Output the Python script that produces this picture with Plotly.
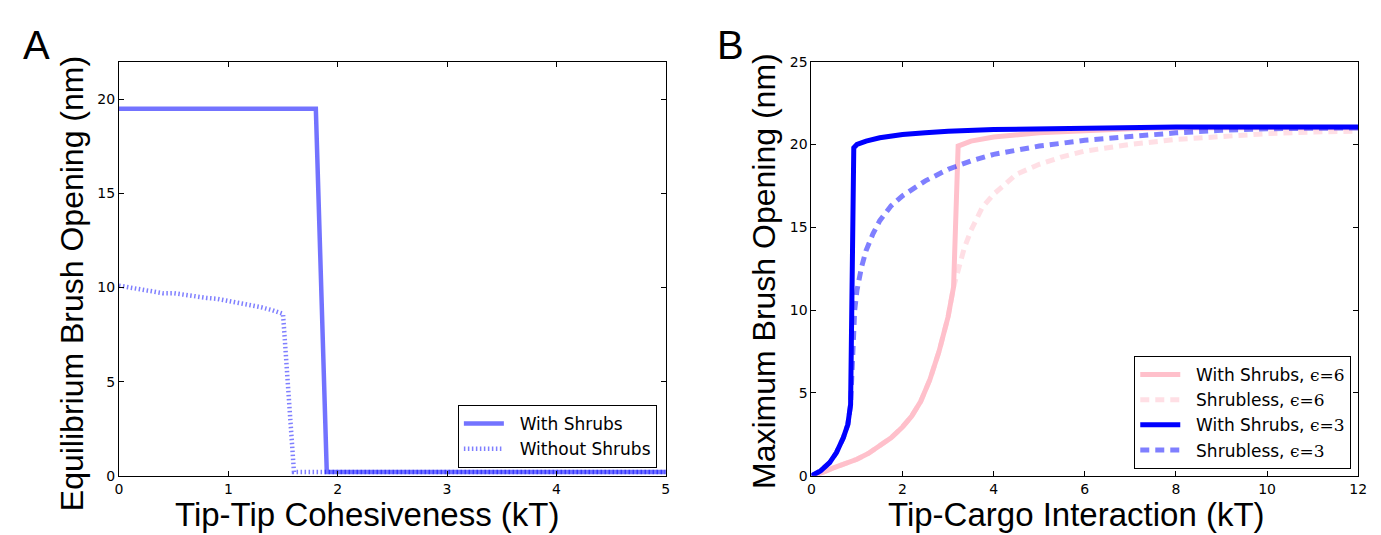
import plotly.graph_objects as go

# ---- panel A: equilibrium opening vs tip-tip cohesiveness ----
a_shrub_x = [0, 1.8, 1.9, 5]
a_shrub_y = [19.5, 19.5, 0.2, 0.2]

a_noshrub_x = [0, 0.1, 0.2, 0.3, 0.4, 0.5, 0.6, 0.7, 0.8, 0.9, 1.0, 1.1, 1.2,
               1.3, 1.4, 1.5, 1.6, 5]
a_noshrub_y = [10.1, 10.0, 9.85, 9.75, 9.7, 9.7, 9.6, 9.55, 9.45, 9.4, 9.3,
               9.2, 9.1, 8.95, 8.8, 8.6, 0.2, 0.2]

# ---- panel B: maximum opening vs tip-cargo interaction ----
b_s6_x = [0, 0.25, 0.5, 0.75, 1.0, 1.25, 1.5, 1.75, 2.0, 2.2, 2.4, 2.6, 2.8,
          3.0, 3.12, 3.22, 3.5, 4.0, 5.0, 6.0, 7.0, 8.0, 10.0, 12.0]
b_s6_y = [0, 0.2, 0.5, 0.75, 1.0, 1.35, 1.8, 2.3, 2.95, 3.6, 4.5, 5.8, 7.5,
          9.6, 11.4, 19.9, 20.2, 20.45, 20.7, 20.85, 20.95, 21.0, 21.0, 21.0]

b_n6_x = [0, 0.25, 0.5, 0.75, 1.0, 1.25, 1.5, 1.75, 2.0, 2.2, 2.4, 2.6, 2.8,
          3.0, 3.12, 3.2, 3.35, 3.5, 3.75, 4.0, 4.5, 5.0, 5.5, 6.0, 7.0, 8.0,
          9.0, 10.0, 11.0, 12.0]
b_n6_y = [0, 0.2, 0.5, 0.75, 1.0, 1.35, 1.8, 2.3, 2.95, 3.6, 4.5, 5.8, 7.5,
          9.6, 11.4, 12.2, 13.7, 14.8, 16.2, 17.0, 18.2, 18.8, 19.25, 19.6,
          20.0, 20.3, 20.5, 20.65, 20.75, 20.8]

b_s3_x = [0, 0.2, 0.4, 0.55, 0.7, 0.8, 0.86, 0.93, 1.0, 1.2, 1.5, 2.0, 2.5,
          3.0, 4.0, 5.0, 6.0, 8.0, 10.0, 12.0]
b_s3_y = [0, 0.3, 0.8, 1.4, 2.3, 3.1, 4.3, 19.8, 20.0, 20.2, 20.4, 20.6, 20.7,
          20.8, 20.9, 20.95, 21.0, 21.05, 21.05, 21.05]

b_n3_x = [0, 0.2, 0.4, 0.55, 0.7, 0.8, 0.86, 0.88, 0.91, 0.95, 1.0, 1.1, 1.2,
          1.35, 1.5, 1.75, 2.0, 2.5, 3.0, 3.5, 4.0, 5.0, 6.0, 7.0, 8.0, 9.0,
          10.0, 12.0]
b_n3_y = [0, 0.3, 0.8, 1.4, 2.3, 3.1, 4.3, 6.0, 8.5, 10.0, 11.2, 12.6, 13.6,
          14.6, 15.4, 16.3, 16.9, 17.8, 18.5, 19.0, 19.4, 19.9, 20.25, 20.5,
          20.7, 20.85, 20.95, 21.0]

PAD = "\u00a0\u00a0"
A_LABELS = [PAD + "With Shrubs", PAD + "Without Shrubs"]
EPS = "<span style='font-family:DejaVu Serif'>ϵ=%s</span>"
B_LABELS = [PAD + "With Shrubs, " + EPS % 6, PAD + "Shrubless, " + EPS % 6,
            PAD + "With Shrubs, " + EPS % 3, PAD + "Shrubless, " + EPS % 3]

W, H = 1381, 535
XTITLE_FONT = dict(family="Liberation Sans, Arial", size=33, color="black")
YTITLE_FONT = dict(family="Liberation Sans, Arial", size=32, color="black")
TICK_FONT = dict(family="DejaVu Sans", size=14, color="black")
LEG_FONT = dict(family="DejaVu Sans", size=17, color="black")
PANEL_FONT = dict(family="Liberation Sans, Arial", size=40, color="black")


def px(x):
    return x / W


def py(y):
    return 1 - y / H


fig = go.Figure()

fig.add_trace(go.Scatter(x=a_shrub_x, y=a_shrub_y, mode="lines", name=A_LABELS[0],
                         line=dict(color="rgba(0,0,255,0.55)", width=4.5),
                         xaxis="x", yaxis="y", legend="legend"))
fig.add_trace(go.Scatter(x=a_noshrub_x, y=a_noshrub_y, mode="lines", name=A_LABELS[1],
                         line=dict(color="rgba(0,0,255,0.5)", width=4.5,
                                   dash="1.5px,2.5px"),
                         xaxis="x", yaxis="y", legend="legend"))

b_series = [
    (b_s6_x, b_s6_y, "#ffc0cb", "solid"),
    (b_n6_x, b_n6_y, "rgba(255,192,203,0.5)", "9px,6px"),
    (b_s3_x, b_s3_y, "#0000ff", "solid"),
    (b_n3_x, b_n3_y, "rgba(0,0,255,0.5)", "9px,6px"),
]
for (bx, by, color, dash), label in zip(b_series, B_LABELS):
    fig.add_trace(go.Scatter(x=bx, y=by, mode="lines", name=label,
                             line=dict(color=color, width=5, dash=dash),
                             xaxis="x2", yaxis="y2", legend="legend2"))

axis_style = dict(showline=True, linecolor="black", linewidth=1, mirror="ticks",
                  ticks="inside", ticklen=5, tickcolor="black", showgrid=False,
                  zeroline=False, tickfont=TICK_FONT)

y_dom = [py(474), py(47)]
legend_style = dict(xanchor="right", yanchor="bottom", bordercolor="black",
                    borderwidth=1, bgcolor="white", font=LEG_FONT, itemwidth=40)
fig.update_layout(
    width=W, height=H,
    margin=dict(l=0, r=0, t=0, b=0),
    paper_bgcolor="white", plot_bgcolor="white",
    xaxis=dict(domain=[px(108), px(660)], range=[0, 5], dtick=1, anchor="y", **axis_style),
    yaxis=dict(domain=y_dom, range=[0, 22], tickvals=[0, 5, 10, 15, 20], anchor="x",
               **axis_style),
    xaxis2=dict(domain=[px(807), px(1359)], range=[0, 12], dtick=2, anchor="y2",
                **axis_style),
    yaxis2=dict(domain=y_dom, range=[0, 25], dtick=5, anchor="x2", **axis_style),
    legend=dict(x=px(651), y=py(466), **legend_style),
    legend2=dict(x=px(1352), y=py(467), **legend_style),
    showlegend=True,
)

notes = [
    ("A", 25, 30, 0, PANEL_FONT),
    ("B", 725, 30, 0, PANEL_FONT),
    ("Tip-Tip Cohesiveness (kT)", 358, 514, 0, XTITLE_FONT),
    ("Tip-Cargo Interaction (kT)", 1075, 514, 0, XTITLE_FONT),
    ("Equilibrium Brush Opening (nm)", 60, 276, -90, YTITLE_FONT),
    ("Maximum Brush Opening (nm)", 759, 263, -90, YTITLE_FONT),
]
for text, x, y, angle, font in notes:
    fig.add_annotation(text=text, x=px(x), y=py(y), xref="paper", yref="paper",
                       showarrow=False, textangle=angle, font=font,
                       xanchor="center", yanchor="middle")

fig.write_html("out.html")
